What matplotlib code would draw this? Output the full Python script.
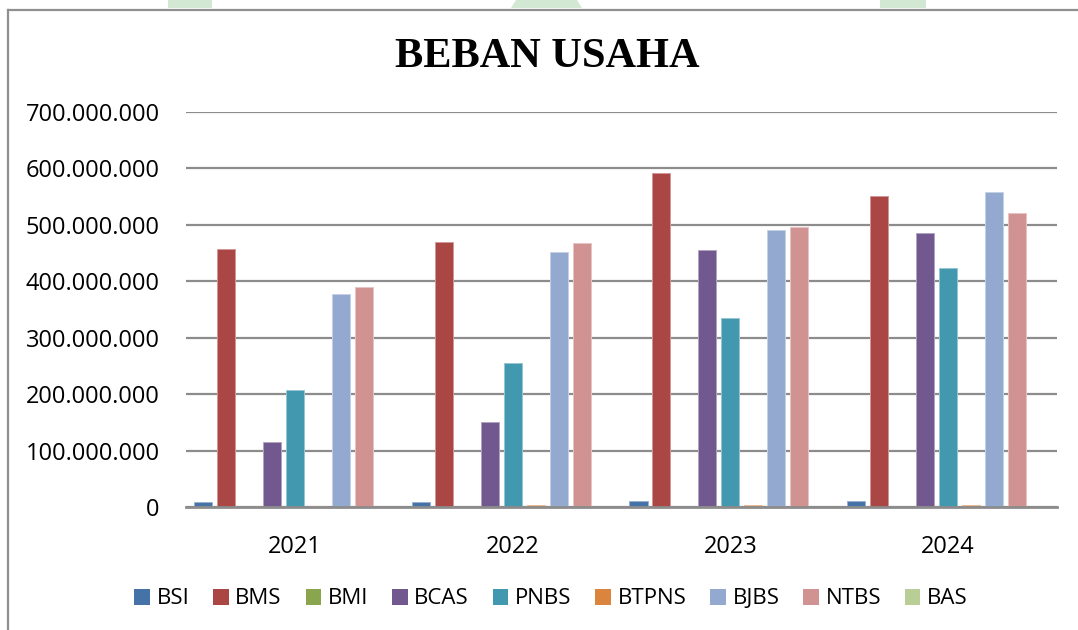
import matplotlib
matplotlib.use("Agg")
import matplotlib.pyplot as plt
import numpy as np
from matplotlib.lines import Line2D
from matplotlib.patches import Polygon
from matplotlib.ticker import FuncFormatter, MultipleLocator

years = ["2021", "2022", "2023", "2024"]
banks = ["BSI", "BMS", "BMI", "BCAS", "PNBS", "BTPNS", "BJBS", "NTBS", "BAS"]

bsi   = [8_000_000, 9_000_000, 10_000_000, 11_500_000]
bms   = [458_000_000, 470_000_000, 592_000_000, 551_000_000]
bmi   = [0, 0, 0, 0]
bcas  = [116_000_000, 151_000_000, 456_000_000, 485_000_000]
pnbs  = [208_000_000, 255_000_000, 335_000_000, 424_000_000]
btpns = [2_000_000, 3_000_000, 3_000_000, 3_000_000]
bjbs  = [377_000_000, 452_000_000, 491_000_000, 558_000_000]
ntbs  = [390_000_000, 468_000_000, 496_000_000, 521_000_000]
bas   = [0, 0, 0, 0]

series = [bsi, bms, bmi, bcas, pnbs, btpns, bjbs, ntbs, bas]
colors = ["#4572A7", "#AA4643", "#89A54E", "#71588F", "#4198AF",
          "#DB843D", "#93A9CF", "#D19392", "#B9CD96"]

SANS = ["Open Sans", "DejaVu Sans"]

W, H = 1078, 630
fig = plt.figure(figsize=(W / 100, H / 100), dpi=100)
fig.patch.set_facecolor("white")

# watermark fragments at top
wm = "#d3e8d3"
for pts in ([(168, 0), (212, 0), (212, 8), (168, 8)],
            [(516, 0), (577, 0), (582, 8), (511, 8)],
            [(880, 0), (926, 0), (926, 8), (880, 8)]):
    fig.add_artist(Polygon([(x / W, 1 - y / H) for x, y in pts], closed=True,
                           facecolor=wm, edgecolor="none", transform=fig.transFigure))

# frame
fc = "#8f8f8f"
fig.add_artist(Line2D([8 / W, 1.0], [1 - 9.5 / H, 1 - 9.5 / H], color=fc, lw=1.6,
                      transform=fig.transFigure))
fig.add_artist(Line2D([8 / W, 8 / W], [1 - 9.5 / H, 0], color=fc, lw=1.6,
                      transform=fig.transFigure))

ax = fig.add_axes([186 / W, 1 - 507 / H, (1057 - 186) / W, (507 - 112) / H])

x = np.arange(len(years))
pitch = 0.1055
bw = 0.083
n = len(series)
for i, (vals, c) in enumerate(zip(series, colors)):
    off = (i - (n - 1) / 2) * pitch
    rgb = np.array(matplotlib.colors.to_rgb(c))
    edge = tuple(rgb + (1 - rgb) * 0.45)
    ax.bar(x + off, vals, width=bw, color=c, edgecolor=edge, linewidth=0.7,
           label=banks[i], zorder=3)

ax.set_xlim(-0.5, len(years) - 0.5)
ax.set_ylim(0, 700_000_000)
ax.yaxis.set_major_locator(MultipleLocator(100_000_000))
ax.yaxis.set_major_formatter(FuncFormatter(lambda v, p: f"{int(round(v)):,}".replace(",", ".")))
ax.set_xticks(x)
ax.set_xticklabels(years)
ax.grid(axis="y", color="#8c8c8c", lw=1.6, zorder=0)
for s in ["top", "right", "left"]:
    ax.spines[s].set_visible(False)
ax.spines["bottom"].set_color("#8c8c8c")
ax.spines["bottom"].set_linewidth(2.0)
ax.spines["bottom"].set_zorder(4)
ax.tick_params(axis="both", length=0, labelsize=17)
ax.tick_params(axis="y", pad=19)
ax.tick_params(axis="x", pad=20)
for lab in ax.get_xticklabels() + ax.get_yticklabels():
    lab.set_family(SANS)

fig.text(547 / W, 1 - 57 / H, "BEBAN USAHA", ha="center", va="center",
         family=["Liberation Serif", "DejaVu Serif"], weight="bold", fontsize=30.5)

handles, labels = ax.get_legend_handles_labels()
leg = fig.legend(handles, labels, loc="center", bbox_to_anchor=(551 / W, 1 - 599 / H),
                 ncol=9, frameon=False, prop={"family": SANS, "size": 16},
                 handlelength=0.7, handleheight=0.7, handletextpad=0.3,
                 columnspacing=1.07, borderaxespad=0)
for h in leg.legend_handles:
    h.set_edgecolor("none")

fig.savefig("out.png", dpi=100, facecolor="white")
